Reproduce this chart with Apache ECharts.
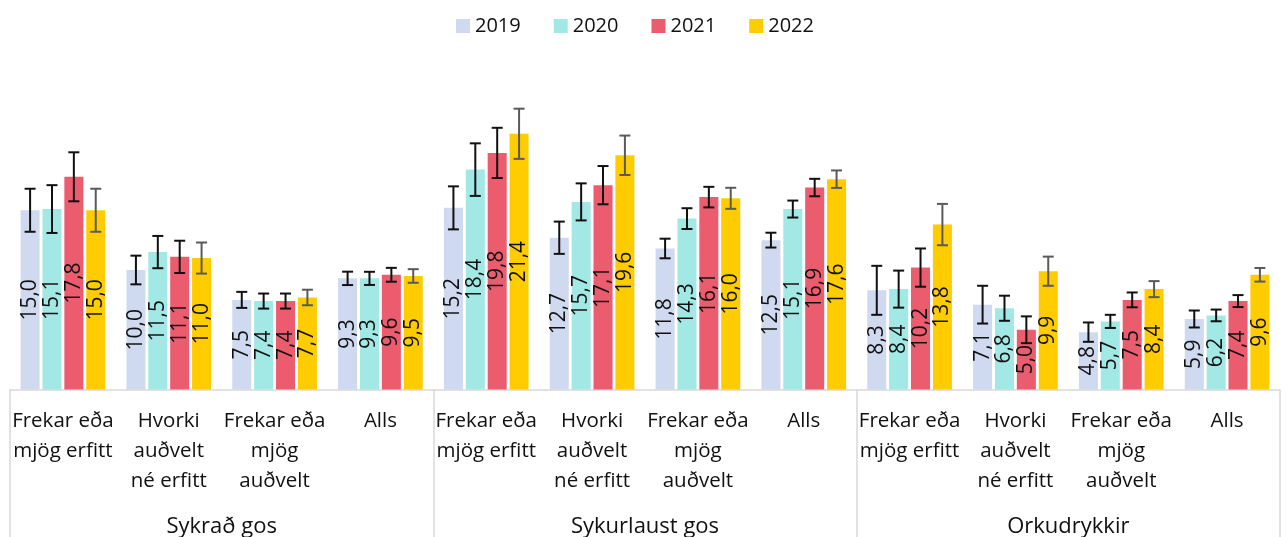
<!DOCTYPE html>
<html>
<head>
<meta charset="utf-8">
<script src="https://cdn.jsdelivr.net/npm/echarts@6/dist/echarts.min.js"></script>
<style>
  html, body { margin: 0; padding: 0; background: #fff; }
  #chart { width: 1286px; height: 537px; }
</style>
</head>
<body>
<div id="chart"></div>
<script>
// flokkar
var subCats = [
    'Frekar eða\nmjög erfitt', 'Hvorki\nauðvelt\nné erfitt', 'Frekar eða\nmjög\nauðvelt', 'Alls',
    'Frekar eða\nmjög erfitt', 'Hvorki\nauðvelt\nné erfitt', 'Frekar eða\nmjög\nauðvelt', 'Alls',
    'Frekar eða\nmjög erfitt', 'Hvorki\nauðvelt\nné erfitt', 'Frekar eða\nmjög\nauðvelt', 'Alls'
];
var groups = ['Sykrað gos', 'Sykurlaust gos', 'Orkudrykkir'];
var years = ['2019', '2020', '2021', '2022'];

// hlutfall (%)
var v2019 = [15.0, 10.0, 7.5, 9.3, 15.2, 12.7, 11.8, 12.5, 8.3, 7.1, 4.8, 5.9];
var v2020 = [15.1, 11.5, 7.4, 9.3, 18.4, 15.7, 14.3, 15.1, 8.4, 6.8, 5.7, 6.2];
var v2021 = [17.8, 11.1, 7.4, 9.6, 19.8, 17.1, 16.1, 16.9, 10.2, 5.0, 7.5, 7.4];
var v2022 = [15.0, 11.0, 7.7, 9.5, 21.4, 19.6, 16.0, 17.6, 13.8, 9.9, 8.4, 9.6];

// vikmörk (+/-)
var e2019 = [1.8, 1.2, 0.67, 0.56, 1.8, 1.35, 0.82, 0.62, 2.05, 1.58, 0.81, 0.71];
var e2020 = [2.0, 1.35, 0.63, 0.55, 2.2, 1.55, 0.87, 0.71, 1.55, 1.05, 0.55, 0.49];
var e2021 = [2.05, 1.35, 0.63, 0.58, 2.1, 1.6, 0.86, 0.73, 1.6, 1.12, 0.62, 0.5];
var e2022 = [1.8, 1.3, 0.65, 0.57, 2.1, 1.65, 0.88, 0.73, 1.73, 1.22, 0.67, 0.57];

var colors = ['#CFD9F0', '#A2E9E5', '#EB5C6E', '#FFCC00'];
var errColors = ['#111', '#111', '#111', '#5a5a5a'];
var FONT = 'Open Sans';

var values = [v2019, v2020, v2021, v2022];
var errs = [e2019, e2020, e2021, e2022];

var CAT_GAP = 0.2, BAR_GAP = 0.15;

function barSeries(i) {
    return {
        name: years[i],
        type: 'bar',
        data: values[i],
        barCategoryGap: '20%',
        barGap: '15%',
        itemStyle: { color: colors[i] },
        label: {
            show: true,
            position: 'inside',
            rotate: 90,
            fontFamily: FONT,
            fontSize: 21,
            color: '#111',
            formatter: function (p) { return p.value.toFixed(1).replace('.', ','); }
        }
    };
}

function errSeries(i) {
    var data = [];
    for (var k = 0; k < values[i].length; k++) {
        data.push([k, values[i][k] - errs[i][k], values[i][k] + errs[i][k]]);
    }
    return {
        name: years[i] + ' vik',
        type: 'custom',
        z: 10,
        silent: true,
        data: data,
        renderItem: function (params, api) {
            var catW = api.size([1, 0])[0];
            var area = catW * (1 - CAT_GAP);
            var bw = area / (4 + 3 * BAR_GAP);
            var off = -area / 2 + bw / 2 + i * bw * (1 + BAR_GAP);
            var hi = api.coord([api.value(0), api.value(2)]);
            var lo = api.coord([api.value(0), api.value(1)]);
            var cx = hi[0] + off;
            var cap = 5.5;
            var st = { stroke: errColors[i], lineWidth: 2 };
            return {
                type: 'group',
                children: [
                    { type: 'line', shape: { x1: cx, y1: hi[1], x2: cx, y2: lo[1] }, style: st },
                    { type: 'line', shape: { x1: cx - cap, y1: hi[1], x2: cx + cap, y2: hi[1] }, style: st },
                    { type: 'line', shape: { x1: cx - cap, y1: lo[1], x2: cx + cap, y2: lo[1] }, style: st }
                ]
            };
        }
    };
}

var series = [];
for (var i = 0; i < 4; i++) series.push(barSeries(i));
for (var j = 0; j < 4; j++) series.push(errSeries(j));

var chart = echarts.init(document.getElementById('chart'));
chart.setOption({
    animation: false,
    legend: {
        data: years,
        left: 451,
        top: 11,
        icon: 'rect',
        itemWidth: 14,
        itemHeight: 14,
        itemGap: 33,
        textStyle: { fontFamily: FONT, fontSize: 20, color: '#111' }
    },
    grid: { left: 10, right: 6, top: 90.75, bottom: 147.5, outerBoundsMode: 'none', containLabel: false },
    xAxis: [
        {
            type: 'category',
            data: subCats,
            axisLine: { lineStyle: { color: '#D9D9D9', width: 1.5 } },
            axisTick: { show: false },
            axisLabel: {
                interval: 0,
                margin: 17,
                fontFamily: FONT,
                fontSize: 20.5,
                lineHeight: 30,
                color: '#111'
            }
        },
        {
            type: 'category',
            data: groups,
            position: 'bottom',
            axisLine: { show: false },
            axisTick: { show: true, length: 150, lineStyle: { color: '#D9D9D9', width: 1.5 } },
            axisLabel: {
                interval: 0,
                margin: 126,
                fontFamily: FONT,
                fontSize: 22,
                color: '#111'
            }
        }
    ],
    yAxis: {
        type: 'value',
        min: 0,
        max: 25,
        show: false,
        splitLine: { show: false }
    },
    series: series
});
</script>
</body>
</html>
